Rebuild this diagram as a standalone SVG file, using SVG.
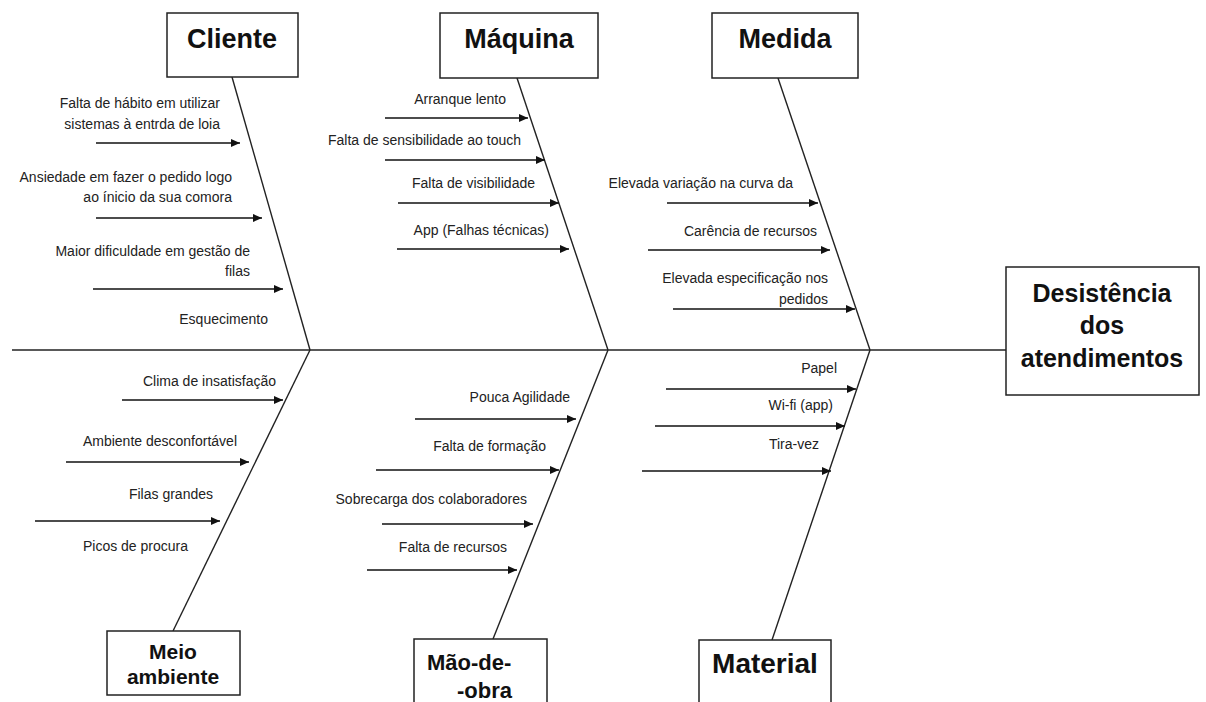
<svg xmlns="http://www.w3.org/2000/svg" width="1206" height="702" viewBox="0 0 1206 702">
<style>
.box{fill:#fff;stroke:#222;stroke-width:1.5}
.bone{stroke:#222;stroke-width:1.4;fill:none}
.arr{stroke:#111;stroke-width:1.3;fill:none;marker-end:url(#ah)}
.lbl{font-family:"Liberation Sans",Arial,sans-serif;font-size:14px;fill:#222;text-anchor:end}
.ttl{font-family:"Liberation Sans",Arial,sans-serif;font-weight:bold;fill:#111;text-anchor:middle}
</style>
<defs>
<marker id="ah" markerUnits="userSpaceOnUse" markerWidth="10" markerHeight="8" refX="9" refY="4" orient="auto">
<path d="M0,0 L9,4 L0,8 Z" fill="#111"/>
</marker>
</defs>
<rect width="1206" height="702" fill="#fff"/>
<g id="connectors">
<line class="bone" x1="12" y1="350" x2="1006" y2="350" stroke="#444"/>
<line class="bone" x1="232" y1="77" x2="310" y2="350"/>
<line class="bone" x1="310" y1="350" x2="173" y2="631"/>
<line class="bone" x1="517" y1="78" x2="608" y2="350"/>
<line class="bone" x1="608" y1="350" x2="493" y2="639"/>
<line class="bone" x1="778" y1="78" x2="870" y2="350"/>
<line class="bone" x1="870" y1="350" x2="772" y2="640"/>
<line class="arr" x1="96" y1="143" x2="240" y2="143"/>
<line class="arr" x1="96" y1="218" x2="262" y2="218"/>
<line class="arr" x1="93" y1="289" x2="283" y2="289"/>
<line class="arr" x1="385" y1="118" x2="528" y2="118"/>
<line class="arr" x1="385" y1="160" x2="545" y2="160"/>
<line class="arr" x1="398" y1="203" x2="559" y2="203"/>
<line class="arr" x1="397" y1="249" x2="569" y2="249"/>
<line class="arr" x1="667" y1="203" x2="818" y2="203"/>
<line class="arr" x1="648" y1="250" x2="830" y2="250"/>
<line class="arr" x1="673" y1="309" x2="855" y2="309"/>
<line class="arr" x1="122" y1="400" x2="283" y2="400"/>
<line class="arr" x1="66" y1="462" x2="249" y2="462"/>
<line class="arr" x1="35" y1="521" x2="220" y2="521"/>
<line class="arr" x1="415" y1="419" x2="576" y2="419"/>
<line class="arr" x1="376" y1="470" x2="559" y2="470"/>
<line class="arr" x1="382" y1="524" x2="533" y2="524"/>
<line class="arr" x1="367" y1="570" x2="517" y2="570"/>
<line class="arr" x1="666" y1="389" x2="856" y2="389"/>
<line class="arr" x1="655" y1="426" x2="845" y2="426"/>
<line class="arr" x1="642" y1="471" x2="831" y2="471"/>
</g>
<g id="cliente">
<rect class="box" x="167" y="13" width="131" height="64"/>
<text class="ttl" x="232" y="48" font-size="27">Cliente</text>
<text class="lbl" x="220" y="108">Falta de hábito em utilizar</text>
<text class="lbl" x="220" y="129">sistemas à entrda de loia</text>
<text class="lbl" x="232" y="182">Ansiedade em fazer o pedido logo</text>
<text class="lbl" x="232" y="202">ao ínicio da sua comora</text>
<text class="lbl" x="250" y="256">Maior dificuldade em gestão de</text>
<text class="lbl" x="250" y="276">filas</text>
<text class="lbl" x="268" y="324">Esquecimento</text>
</g>
<g id="maquina">
<rect class="box" x="440" y="13" width="158" height="65"/>
<text class="ttl" x="519" y="48" font-size="27">Máquina</text>
<text class="lbl" x="506" y="104">Arranque lento</text>
<text class="lbl" x="521" y="145">Falta de sensibilidade ao touch</text>
<text class="lbl" x="535" y="188">Falta de visibilidade</text>
<text class="lbl" x="549" y="235">App (Falhas técnicas)</text>
</g>
<g id="medida">
<rect class="box" x="712" y="13" width="146" height="65"/>
<text class="ttl" x="785" y="48" font-size="27">Medida</text>
<text class="lbl" x="793" y="188">Elevada variação na curva da</text>
<text class="lbl" x="817" y="236">Carência de recursos</text>
<text class="lbl" x="828" y="283">Elevada especificação nos</text>
<text class="lbl" x="828" y="304">pedidos</text>
</g>
<g id="desistencia">
<rect class="box" x="1006" y="267" width="193" height="128"/>
<text class="ttl" x="1102" y="302" font-size="25">Desistência</text>
<text class="ttl" x="1102" y="334" font-size="25">dos</text>
<text class="ttl" x="1102" y="367" font-size="25">atendimentos</text>
</g>
<g id="meio-ambiente">
<rect class="box" x="107" y="631" width="133" height="64"/>
<text class="ttl" x="173" y="659" font-size="21">Meio</text>
<text class="ttl" x="173" y="684" font-size="21">ambiente</text>
<text class="lbl" x="276" y="386">Clima de insatisfação</text>
<text class="lbl" x="237" y="446">Ambiente desconfortável</text>
<text class="lbl" x="213" y="499">Filas grandes</text>
<text class="lbl" x="188" y="551">Picos de procura</text>
</g>
<g id="mao-de-obra">
<rect class="box" x="414" y="639" width="133" height="70"/>
<text class="ttl" x="427" y="670" font-size="22" style="text-anchor:start">Mão-de-</text>
<text class="ttl" x="457" y="698" font-size="22" style="text-anchor:start">-obra</text>
<text class="lbl" x="570" y="402">Pouca Agilidade</text>
<text class="lbl" x="546" y="451">Falta de formação</text>
<text class="lbl" x="527" y="504">Sobrecarga dos colaboradores</text>
<text class="lbl" x="507" y="552">Falta de recursos</text>
</g>
<g id="material">
<rect class="box" x="699" y="640" width="132" height="70"/>
<text class="ttl" x="765" y="673" font-size="28">Material</text>
<text class="lbl" x="837" y="373">Papel</text>
<text class="lbl" x="833" y="410">Wi-fi (app)</text>
<text class="lbl" x="819" y="449">Tira-vez</text>
</g>
</svg>
